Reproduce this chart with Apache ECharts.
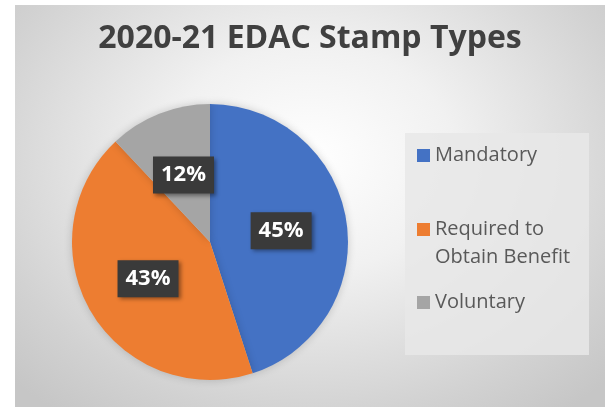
<!DOCTYPE html>
<html>
<head>
<meta charset="utf-8">
<script src="https://cdn.jsdelivr.net/npm/echarts@6/dist/echarts.min.js"></script>
<style>
  html, body { margin: 0; padding: 0; background: #ffffff; }
  #chart {
    position: absolute; left: 15px; top: 5px; width: 590px; height: 402px;
    background: radial-gradient(ellipse 70% 80% at 50% 38%, #ffffff 0%, #f1f1f1 35%, #d2d2d2 80%, #c6c6c6 100%);
  }
</style>
</head>
<body>
<div id="chart"></div>
<script>
// data
const categories = ['Mandatory', 'Required to Obtain Benefit', 'Voluntary'];
const legendTexts = ['Mandatory', '\nRequired to\nObtain Benefit', 'Voluntary'];
const shares = [45, 43, 12];
const sliceColors = ['#4472C4', '#ED7D31', '#A5A5A5'];
const legendTops = [138.5, 182.5, 285.5];

const chart = echarts.init(document.getElementById('chart'));

const legends = categories.map((name, i) => ({
    data: [name],
    orient: 'vertical',
    left: 402,
    top: legendTops[i],
    padding: 0,
    itemWidth: 13,
    itemHeight: 13,
    icon: 'rect',
    selectedMode: false,
    formatter: () => legendTexts[i],
    textStyle: {
        fontFamily: 'Open Sans',
        fontSize: 20,
        color: '#595959',
        lineHeight: i === 1 ? 28 : 24
    }
}));

chart.setOption({
    animation: false,
    title: {
        text: '2020-21 EDAC Stamp Types',
        left: 'center',
        top: 13,
        textStyle: {
            fontFamily: 'Open Sans',
            fontWeight: 'bold',
            fontSize: 32,
            color: '#404040'
        }
    },
    graphic: [{
        type: 'rect',
        z: -1,
        shape: { x: 390, y: 128, width: 184, height: 222 },
        style: { fill: 'rgba(232,232,232,0.85)' }
    }],
    legend: legends,
    series: [{
        type: 'pie',
        center: [195, 237],
        radius: 138,
        startAngle: 90,
        clockwise: true,
        data: categories.map((name, i) => ({
            name: name,
            value: shares[i],
            itemStyle: { color: sliceColors[i] }
        })),
        itemStyle: {
            shadowBlur: 8,
            shadowColor: 'rgba(0,0,0,0.18)'
        },
        label: {
            position: 'inside',
            formatter: '{d}%',
            fontFamily: 'Open Sans',
            fontWeight: 'bold',
            fontSize: 22,
            color: '#ffffff',
            backgroundColor: '#3a3a3a',
            padding: [8, 8, 7, 8],
            shadowBlur: 4,
            shadowColor: 'rgba(0,0,0,0.4)',
            shadowOffsetX: 2,
            shadowOffsetY: 2
        },
        labelLine: { show: false },
        emphasis: { disabled: true }
    }]
});
</script>
</body>
</html>
